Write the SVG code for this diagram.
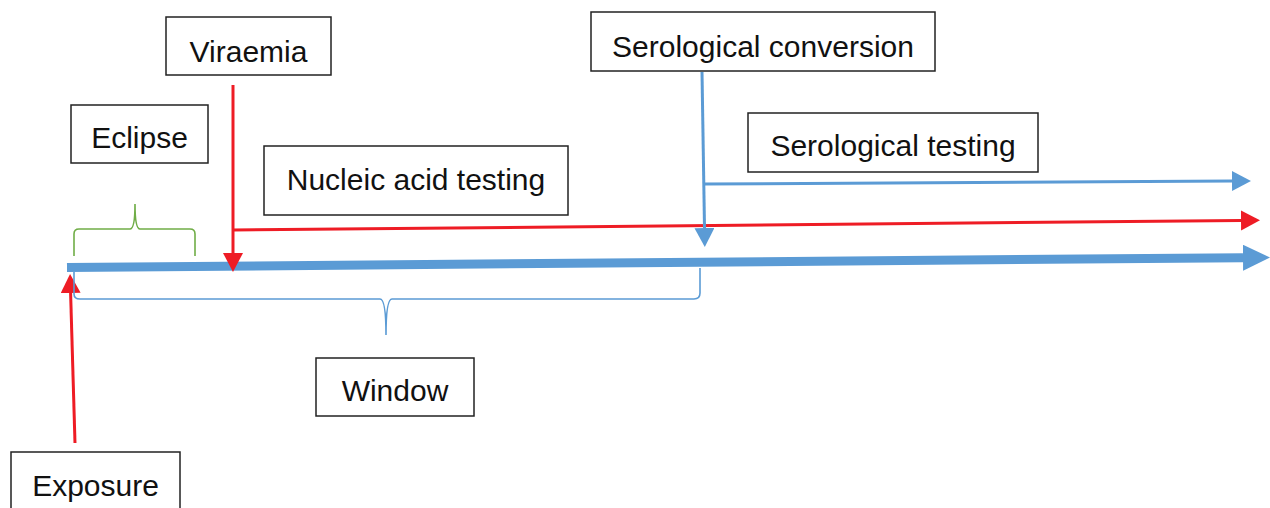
<svg xmlns="http://www.w3.org/2000/svg" width="1270" height="508" viewBox="0 0 1270 508">
<style>
.box{fill:#fff;stroke:#222;stroke-width:1.5}
.lbl{font-family:"Liberation Sans",Arial,sans-serif;font-size:30px;fill:#111;text-anchor:middle}
.red{stroke:#EE1C25;stroke-width:3;fill:none}
.blue{stroke:#5B9BD5;stroke-width:3;fill:none}
.brace{fill:none;stroke-width:1.6}
</style>
<defs>
<marker id="hThick" markerUnits="userSpaceOnUse" markerWidth="28" markerHeight="28" refX="0" refY="13" orient="auto"><path d="M0,0 L27,13 L0,26 z" fill="#5B9BD5"/></marker>
<marker id="hRed" markerUnits="userSpaceOnUse" markerWidth="20" markerHeight="22" refX="0" refY="10" orient="auto"><path d="M0,0 L19,10 L0,20 z" fill="#EE1C25"/></marker>
<marker id="hBlue" markerUnits="userSpaceOnUse" markerWidth="20" markerHeight="22" refX="0" refY="10" orient="auto"><path d="M0,0 L19,10 L0,20 z" fill="#5B9BD5"/></marker>
</defs>
<g id="connectors">
<line x1="67" y1="267.5" x2="1243" y2="257.7" stroke="#5B9BD5" stroke-width="9" marker-end="url(#hThick)"/>
<line class="red" x1="233" y1="230" x2="1241" y2="220.5" marker-end="url(#hRed)"/>
<line class="red" x1="233" y1="85" x2="233" y2="253" marker-end="url(#hRed)"/>
<line class="red" x1="75" y1="443" x2="70.6" y2="293" marker-end="url(#hRed)"/>
<line class="blue" x1="702" y1="72" x2="704.5" y2="228" marker-end="url(#hBlue)"/>
<line class="blue" x1="704" y1="184" x2="1232" y2="181" marker-end="url(#hBlue)"/>
<path class="brace" stroke="#70AD47" d="M74,256 V234 Q74,229 79,229 H130 Q135,229 135,204 Q135,229 140,229 H190 Q195,229 195,234 V256"/>
<path class="brace" stroke="#5B9BD5" d="M74,272 V294 Q74,299 80,299 H380 Q386,299 386,335 Q386,299 392,299 H694 Q700,299 700,293 V268"/>
</g>
<g id="viraemia"><rect class="box" x="166" y="17" width="165" height="58"/><text class="lbl" x="248.5" y="62">Viraemia</text></g>
<g id="serological-conversion"><rect class="box" x="591" y="12" width="344" height="59"/><text class="lbl" x="763" y="57">Serological conversion</text></g>
<g id="eclipse"><rect class="box" x="71" y="105" width="137" height="58"/><text class="lbl" x="139.5" y="148">Eclipse</text></g>
<g id="nucleic-acid-testing"><rect class="box" x="264" y="146" width="304" height="69"/><text class="lbl" x="416" y="190">Nucleic acid testing</text></g>
<g id="serological-testing"><rect class="box" x="748" y="113" width="290" height="59"/><text class="lbl" x="893" y="156">Serological testing</text></g>
<g id="window"><rect class="box" x="316" y="358" width="158" height="58"/><text class="lbl" x="395" y="401">Window</text></g>
<g id="exposure"><rect class="box" x="11" y="452" width="169" height="70"/><text class="lbl" x="95.5" y="496">Exposure</text></g>
</svg>
